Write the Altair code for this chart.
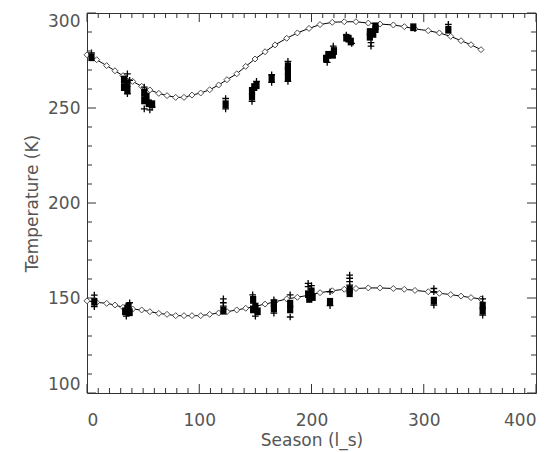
import altair as alt
import pandas as pd

# Model curves (diamonds): season Ls and temperature
model_ls = [0, 8.6, 17.5, 24.9, 32, 40.7, 48.7, 56, 64, 71.3, 79, 86.4, 93.5, 101.3, 109.3,
            117.3, 124.7, 133.4, 141.4, 149.7, 158.6, 167.5, 177.9, 187.4, 197.8, 207.6,
            218.5, 229.2, 239.6, 250.6, 261, 272.9, 282.7, 292.2, 304, 313.9, 324, 333.2,
            342.1, 351]
model_upper = [278, 275.4, 272.3, 269.6, 267, 264, 261.4, 259.5, 257.7, 256.5, 255.6, 255.6,
               256.8, 257.9, 259.6, 262.1, 264.9, 268, 271.9, 275.8, 279.6, 283.2, 286.7,
               289.5, 291.9, 293.9, 295.1, 295.4, 295.4, 294.7, 294.2, 293.7, 292.8, 291.6,
               290.7, 289.5, 287.7, 285.4, 283.3, 280.7]
model_lower = [148.5, 147.7, 147.2, 146.3, 145.1, 144.2, 143.7, 142.8, 141.9, 141.4, 140.7,
               140.7, 140.7, 140.7, 141.4, 142.1, 142.8, 143.7, 144.6, 145.6, 146.8, 148,
               149.5, 150.4, 151.5, 152.8, 153.8, 154.6, 155, 155.3, 155.3, 155, 154.6, 154,
               153.3, 152.5, 151.8, 151, 150.2, 149.5]

# Observations: filled squares
sq_ls = [4, 33, 33, 36, 36, 51, 51, 53, 55, 58, 123.5, 147, 147, 149, 151, 164.5, 179, 179, 179,
         213, 215, 219, 220, 231, 233, 235, 252, 252, 255, 257, 257, 290.7, 321.9,
         6.5, 34, 36, 37, 38, 121.5, 148, 148, 150, 152, 166.5, 166.5, 181, 181, 197, 198, 200,
         201, 216.5, 234, 234, 309, 352.5, 352.5]
sq_t = [276.7, 265, 261, 263, 259.5, 258, 254, 256, 252.5, 252, 252, 256, 259, 261, 262, 265.5,
        266, 269.5, 272, 276, 278, 278, 280, 287, 286.5, 285, 287.5, 290, 289, 291.5, 293,
        292.5, 291.2,
        148, 143, 144.5, 145.5, 142.5, 143.3, 149, 144, 145.5, 143, 144.5, 147, 144, 147, 152,
        149.5, 153.5, 150.5, 148, 152.5, 154.5, 148.6, 146, 143.3]

# Observations: individual values ("+")
pl_ls = [4, 36, 36, 38, 51, 51, 56, 58, 123.5, 123.5, 147, 151, 164.5, 164.5, 179, 179, 214,
         219.4, 231, 235.8, 253, 253, 321.9,
         6.5, 6.5, 35, 38, 121.5, 121.5, 121.5, 147.6, 150, 166.5, 166.5, 181, 181, 197, 197,
         200, 216.5, 216.5, 234, 234, 234, 234, 309, 309, 309, 352.5, 352.5]
pl_t = [279, 268, 257.5, 264.5, 261, 249.5, 249, 250.5, 255, 249.5, 253.5, 264, 267.5, 263.5,
        274.5, 264, 274, 282.6, 288.4, 284, 284.4, 282.6, 294,
        151.5, 145.5, 140.5, 147.5, 149.5, 147.5, 145.7, 151.6, 140.5, 142, 149, 151.6, 140,
        156, 157.7, 156.5, 153.3, 146, 156.8, 158.6, 160.4, 162, 155, 153.3, 146.3, 149.5, 141]

x_ticks = [0, 100, 200, 300, 400]
y_ticks = [100, 150, 200, 250, 300]

W, H = 449, 380
TXT = "#555555"
FONT = "DejaVu Sans"

model = pd.concat([
    pd.DataFrame({"Ls": model_ls, "T": model_upper, "s": "upper"}),
    pd.DataFrame({"Ls": model_ls, "T": model_lower, "s": "lower"}),
])
squares = pd.DataFrame({"Ls": sq_ls, "T": sq_t})
pluses = pd.DataFrame({"Ls": pl_ls, "T": pl_t})

xs = alt.Scale(domain=[0, 400], nice=False, zero=False)
ys = alt.Scale(domain=[100, 300], nice=False, zero=False)

x_axis = alt.Axis(values=x_ticks, ticks=False, domain=False, grid=False,
                  labelPadding=19, titlePadding=4, format="d")
y_axis = alt.Axis(values=y_ticks, ticks=False, domain=False, grid=False,
                  labelPadding=7, titlePadding=6, format="d", labelFlush=True)
X_T = "Season (l_s)"
Y_T = "Temperature (K)"


def xe(f):
    return alt.X(f, scale=xs, title=X_T, axis=x_axis)


def ye(f):
    return alt.Y(f, scale=ys, title=Y_T, axis=y_axis)


line = alt.Chart(model).mark_line(color="black", strokeWidth=1).encode(
    x=xe("Ls:Q"), y=ye("T:Q"), detail="s:N")
diam = alt.Chart(model).mark_point(shape="diamond", filled=True, fill="white",
                                   stroke="#4d4d4d", strokeWidth=1, size=36, opacity=1).encode(
    x=xe("Ls:Q"), y=ye("T:Q"))
sq = alt.Chart(squares).mark_point(shape="M-0.8,-1H0.8V1H-0.8Z", filled=True, color="black",
                                   size=60, opacity=1).encode(
    x=xe("Ls:Q"), y=ye("T:Q"))
pl = alt.Chart(pluses).mark_point(shape="M-1,0H1M0,-1V1", filled=False, stroke="black",
                                  strokeWidth=1.3, size=45, opacity=1).encode(
    x=xe("Ls:Q"), y=ye("T:Q"))

# Inward-pointing frame ticks
xt = pd.DataFrame({"v": list(range(0, 401, 10))})
xt["len"] = [9 if v % 100 == 0 else 5 for v in xt["v"]]
yt = pd.DataFrame({"v": list(range(100, 301, 10))})
yt["len"] = [9 if v % 50 == 0 else 5 for v in yt["v"]]

tick_layers = []
for lenv in (5, 9):
    xd = xt[xt["len"] == lenv]
    yd = yt[yt["len"] == lenv]
    tick_layers.append(alt.Chart(xd).mark_rule(color="#333333", strokeWidth=1).encode(
        x=xe("v:Q"), y=alt.value(H), y2=alt.value(H - lenv)))
    tick_layers.append(alt.Chart(xd).mark_rule(color="#333333", strokeWidth=1).encode(
        x=xe("v:Q"), y=alt.value(0), y2=alt.value(lenv)))
    tick_layers.append(alt.Chart(yd).mark_rule(color="#333333", strokeWidth=1).encode(
        y=ye("v:Q"), x=alt.value(0), x2=alt.value(lenv)))
    tick_layers.append(alt.Chart(yd).mark_rule(color="#333333", strokeWidth=1).encode(
        y=ye("v:Q"), x=alt.value(W), x2=alt.value(W - lenv)))

chart = alt.layer(line, diam, sq, pl, *tick_layers).properties(
    width=W, height=H,
    autosize=alt.AutoSizeParams(type="none"),
    padding={"left": 79, "top": 5, "right": 14, "bottom": 59},
    background="white",
).configure_view(stroke="#333333", strokeWidth=1).configure_axis(
    labelFont=FONT, labelFontSize=17, labelColor=TXT,
    titleFont=FONT, titleFontSize=17, titleColor=TXT, titleFontWeight="normal",
)

chart.save("out.html", embed_options={"renderer": "svg", "actions": False})
